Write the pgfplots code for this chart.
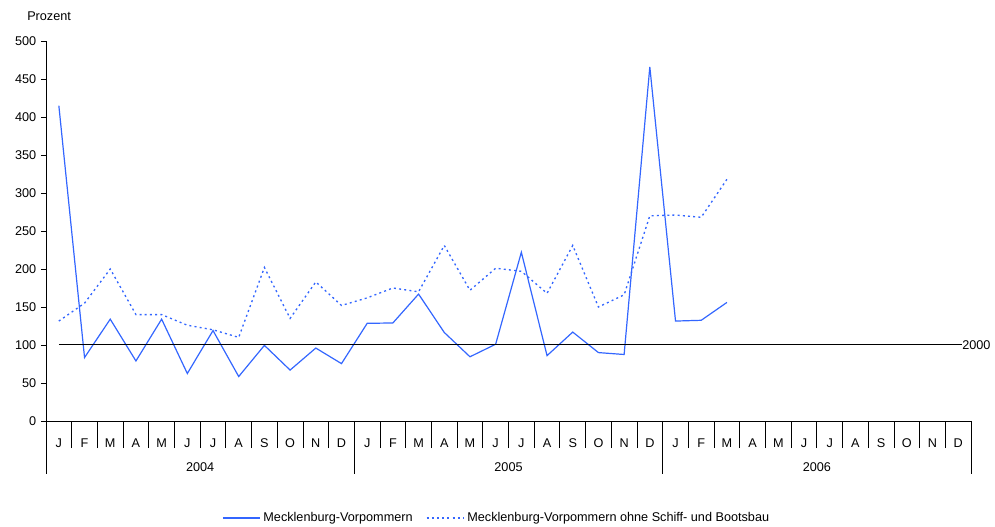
\documentclass[border=0pt]{standalone}
\usepackage{pgfplots}
\pgfplotsset{compat=1.18}
\usepackage{fontspec}
\setmainfont{Liberation Sans}
\definecolor{mvblue}{RGB}{51,102,255}
\newcommand\f{\fontsize{9.5pt}{11pt}\selectfont}
\begin{document}
\begin{tikzpicture}
\useasboundingbox (-34.5pt,-79.5pt) rectangle (711.75pt,315.75pt);
\begin{axis}[
  at={(0,0)}, anchor=south west,
  scale only axis, width=693.75pt, height=285pt,
  xmin=-0.5, xmax=35.5, ymin=0, ymax=500,
  axis lines=left, axis line style={-, black, line width=0.6pt},
  clip=false,
  ytick={0,50,...,500},
  xtick={0,...,35},
  xticklabels={J,F,M,A,M,J,J,A,S,O,N,D,J,F,M,A,M,J,J,A,S,O,N,D,J,F,M,A,M,J,J,A,S,O,N,D},
  minor xtick={-0.5,0.5,1.5,2.5,3.5,4.5,5.5,6.5,7.5,8.5,9.5,10.5,11.5,12.5,13.5,14.5,15.5,16.5,17.5,18.5,19.5,20.5,21.5,22.5,23.5,24.5,25.5,26.5,27.5,28.5,29.5,30.5,31.5,32.5,33.5,34.5,35.5},
  tick align=outside,
  major tick length=3.75pt,
  minor tick length=20.25pt,
  major x tick style={draw=none},
  every tick/.style={black, line width=0.6pt},
  minor x tick style={black, line width=0.6pt},
  /pgf/number format/assume math mode=true,
  tick label style={font=\f},
  xticklabel style={anchor=base, yshift=-16.5pt},
  legend columns=2,
  legend style={at={(0.4876,-0.255)}, anchor=center, draw=none, font=\f,
    /tikz/every even column/.append style={column sep=8pt}},
  legend image code/.code={\draw[#1] (0pt,0pt) -- (28pt,0pt);},
]
\addplot[mvblue, line width=0.9pt] coordinates {
(0,415) (1,83.5) (2,134) (3,79) (4,134) (5,62.5) (6,119) (7,58.5) (8,99.5) (9,67) (10,96) (11,75.5)
(12,128.5) (13,129) (14,167) (15,116.5) (16,84.5) (17,101) (18,222) (19,86) (20,117) (21,90) (22,87.5) (23,466)
(24,131.5) (25,132.5) (26,156)
};
\addlegendentry{Mecklenburg-Vorpommern}
\addplot[mvblue, line width=1pt, dash pattern=on 1.5pt off 2.4pt] coordinates {
(0,131.5) (1,155) (2,200) (3,140) (4,140) (5,126) (6,120) (7,110) (8,202) (9,135) (10,183) (11,152)
(12,162) (13,175) (14,170) (15,231) (16,172) (17,201) (18,197) (19,168) (20,231) (21,150) (22,166) (23,270)
(24,271) (25,268) (26,318)
};
\addlegendentry{Mecklenburg-Vorpommern ohne Schiff- und Bootsbau}
\addplot[black, line width=0.75pt, forget plot] coordinates {(0,100) (35.15,100)};
\node[anchor=west, inner sep=0pt, font=\f] at (axis cs:35.15,100) {2000};
\pgfplotsinvokeforeach{-0.5,11.5,23.5,35.5}{
  \draw[black, line width=0.6pt] (axis cs:#1,0) -- ([yshift=-39.75pt]axis cs:#1,0);
}
\node[font=\f, anchor=base] at ([yshift=-38.25pt]axis cs:5.5,0) {2004};
\node[font=\f, anchor=base] at ([yshift=-38.25pt]axis cs:17.5,0) {2005};
\node[font=\f, anchor=base] at ([yshift=-38.25pt]axis cs:29.5,0) {2006};
\end{axis}
\node[anchor=base west, inner sep=0pt, font=\f] at (-14.25pt,300.5pt) {Prozent};
\end{tikzpicture}
\end{document}
